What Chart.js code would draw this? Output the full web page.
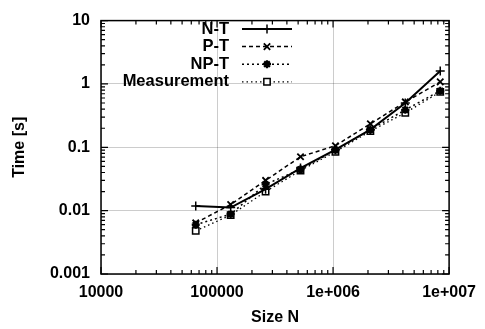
<!DOCTYPE html>
<html>
<head>
<meta charset="utf-8">
<script src="https://cdn.jsdelivr.net/npm/chart.js@4.4.1/dist/chart.umd.min.js"></script>
<style>
  html, body { margin: 0; padding: 0; background: #fff; }
  #box { width: 485px; height: 329px; }
</style>
</head>
<body>
<div id="box"><canvas id="mychart"></canvas></div>
<script>
// problem sizes (2^16 .. 2^23)
const sizes = [65536, 131072, 262144, 524288, 1048576, 2097152, 4194304, 8388608]
const ntTimes = [0.0118, 0.0112, 0.0218, 0.047, 0.092, 0.19, 0.50, 1.6]
const ptTimes = [0.0064, 0.0125, 0.030, 0.071, 0.106, 0.235, 0.52, 1.08]
const npTimes = [0.0060, 0.0088, 0.026, 0.045, 0.090, 0.19, 0.39, 0.78]
const measTimes = [0.0048, 0.0085, 0.020, 0.043, 0.085, 0.18, 0.35, 0.75]

const xTicks = [10000, 100000, 1000000, 10000000]
const xTickLabels = ['10000', '100000', '1e+006', '1e+007']
const yTicks = [0.001, 0.01, 0.1, 1, 10]
const yTickLabels = ['0.001', '0.01', '0.1', '1', '10']

const FONT = "'Liberation Sans', Arial, sans-serif"

function pts(arr) {
    return sizes.map((s, i) => ({ x: s, y: arr[i] }))
}

// gnuplot-ish frame, inward minor/major ticks and the key box
const framePlugin = {
    id: 'frame',
    afterDatasetsDraw(chart) {
        const ctx = chart.ctx
        const a = chart.chartArea
        const xs = chart.scales.x, ys = chart.scales.y
        ctx.save()
        ctx.strokeStyle = '#000'
        ctx.lineWidth = 1.5
        ctx.setLineDash([])
        ctx.strokeRect(a.left, a.top, a.right - a.left, a.bottom - a.top)

        ctx.lineWidth = 1.2
        ctx.beginPath()
        for (let d = 4; d <= 7; d++) {
            for (let k = 1; k <= 9; k++) {
                const v = k * Math.pow(10, d)
                if (v > 1e7) break
                const px = xs.getPixelForValue(v)
                const len = k === 1 ? 7 : 4
                ctx.moveTo(px, a.bottom); ctx.lineTo(px, a.bottom - len)
                ctx.moveTo(px, a.top); ctx.lineTo(px, a.top + len)
            }
        }
        for (let d = -3; d <= 1; d++) {
            for (let k = 1; k <= 9; k++) {
                const v = k * Math.pow(10, d)
                if (v > 10.0001) break
                const py = ys.getPixelForValue(v)
                const len = k === 1 ? 7 : 4
                ctx.moveTo(a.left, py); ctx.lineTo(a.left + len, py)
                ctx.moveTo(a.right, py); ctx.lineTo(a.right - len, py)
            }
        }
        ctx.stroke()

        // key
        const textX = 229, x0 = 242, x1 = 292, mx = 267
        let y = 29
        ctx.font = 'bold 16.5px ' + FONT
        ctx.textAlign = 'right'
        ctx.textBaseline = 'middle'
        chart.data.datasets.forEach((ds) => {
            ctx.fillStyle = '#000'
            ctx.fillText(ds.label, textX, y)
            ctx.strokeStyle = '#000'
            ctx.lineWidth = ds.borderWidth
            ctx.setLineDash(ds.borderDash || [])
            ctx.beginPath()
            ctx.moveTo(x0, y); ctx.lineTo(x1, y)
            ctx.stroke()
            ctx.setLineDash([])
            ctx.lineWidth = ds.pointBorderWidth
            ctx.fillStyle = ds.pointBackgroundColor
            Chart.helpers.drawPoint(ctx, {
                pointStyle: ds.pointStyle, radius: ds.pointRadius, rotation: 0, borderWidth: ds.pointBorderWidth
            }, mx, y)
            y += 17.6
        })
        ctx.restore()
    }
}

const ctx = document.getElementById('mychart')

new Chart(ctx, {
    type: 'scatter',
    data: {
        datasets: [
            {
                label: 'N-T', data: pts(ntTimes), showLine: true,
                borderColor: '#000', borderWidth: 2, borderDash: [],
                pointStyle: 'cross', pointRadius: 4.5, pointBorderWidth: 1.5,
                pointBorderColor: '#000', pointBackgroundColor: '#000'
            },
            {
                label: 'P-T', data: pts(ptTimes), showLine: true,
                borderColor: '#000', borderWidth: 1.5, borderDash: [4, 3],
                pointStyle: 'crossRot', pointRadius: 4.5, pointBorderWidth: 1.8,
                pointBorderColor: '#000', pointBackgroundColor: '#000'
            },
            {
                label: 'NP-T', data: pts(npTimes), showLine: true,
                borderColor: '#000', borderWidth: 1.5, borderDash: [2, 3],
                pointStyle: 'star', pointRadius: 4, pointBorderWidth: 2.2,
                pointBorderColor: '#000', pointBackgroundColor: '#000'
            },
            {
                label: 'Measurement', data: pts(measTimes), showLine: true,
                borderColor: '#000', borderWidth: 1.3, borderDash: [1.5, 3],
                pointStyle: 'rect', pointRadius: 4.5, pointBorderWidth: 1.5,
                pointBorderColor: '#000', pointBackgroundColor: '#fff'
            }
        ]
    },
    options: {
        responsive: true,
        maintainAspectRatio: false,
        animation: false,
        layout: { padding: { top: 13, right: 34, left: 0, bottom: 0 } },
        plugins: { legend: { display: false }, tooltip: { enabled: false } },
        elements: { line: { tension: 0 } },
        scales: {
            x: {
                type: 'logarithmic',
                min: 10000, max: 10000000,
                afterBuildTicks: (s) => { s.ticks = xTicks.map(v => ({ value: v, major: true })) },
                afterFit: (s) => { s.height = 55 },
                border: { display: false },
                grid: { color: 'rgba(0,0,0,0.2)', lineWidth: 1, drawTicks: false },
                ticks: {
                    autoSkip: false, maxRotation: 0, padding: 9, color: '#000',
                    font: { family: FONT, size: 16, weight: 'bold' },
                    callback: (v) => { const i = xTicks.indexOf(v); return i >= 0 ? xTickLabels[i] : '' }
                },
                title: {
                    display: true, text: 'Size N', color: '#000',
                    font: { family: FONT, size: 16, weight: 'bold' },
                    padding: { top: 0, bottom: 1.5 }
                }
            },
            y: {
                type: 'logarithmic',
                min: 0.001, max: 10,
                afterBuildTicks: (s) => { s.ticks = yTicks.map(v => ({ value: v, major: true })) },
                afterFit: (s) => { s.width = 101 },
                border: { display: false },
                grid: { color: 'rgba(0,0,0,0.2)', lineWidth: 1, drawTicks: false },
                ticks: {
                    autoSkip: false, padding: 11, color: '#000',
                    font: { family: FONT, size: 16, weight: 'bold' },
                    callback: (v) => { const i = yTicks.findIndex(t => Math.abs(t - v) / t < 1e-6); return i >= 0 ? yTickLabels[i] : '' }
                },
                title: {
                    display: true, text: 'Time [s]', color: '#000',
                    font: { family: FONT, size: 16, weight: 'bold' },
                    padding: { top: 10, bottom: 0 }
                }
            }
        }
    },
    plugins: [framePlugin]
})
</script>
</body>
</html>
